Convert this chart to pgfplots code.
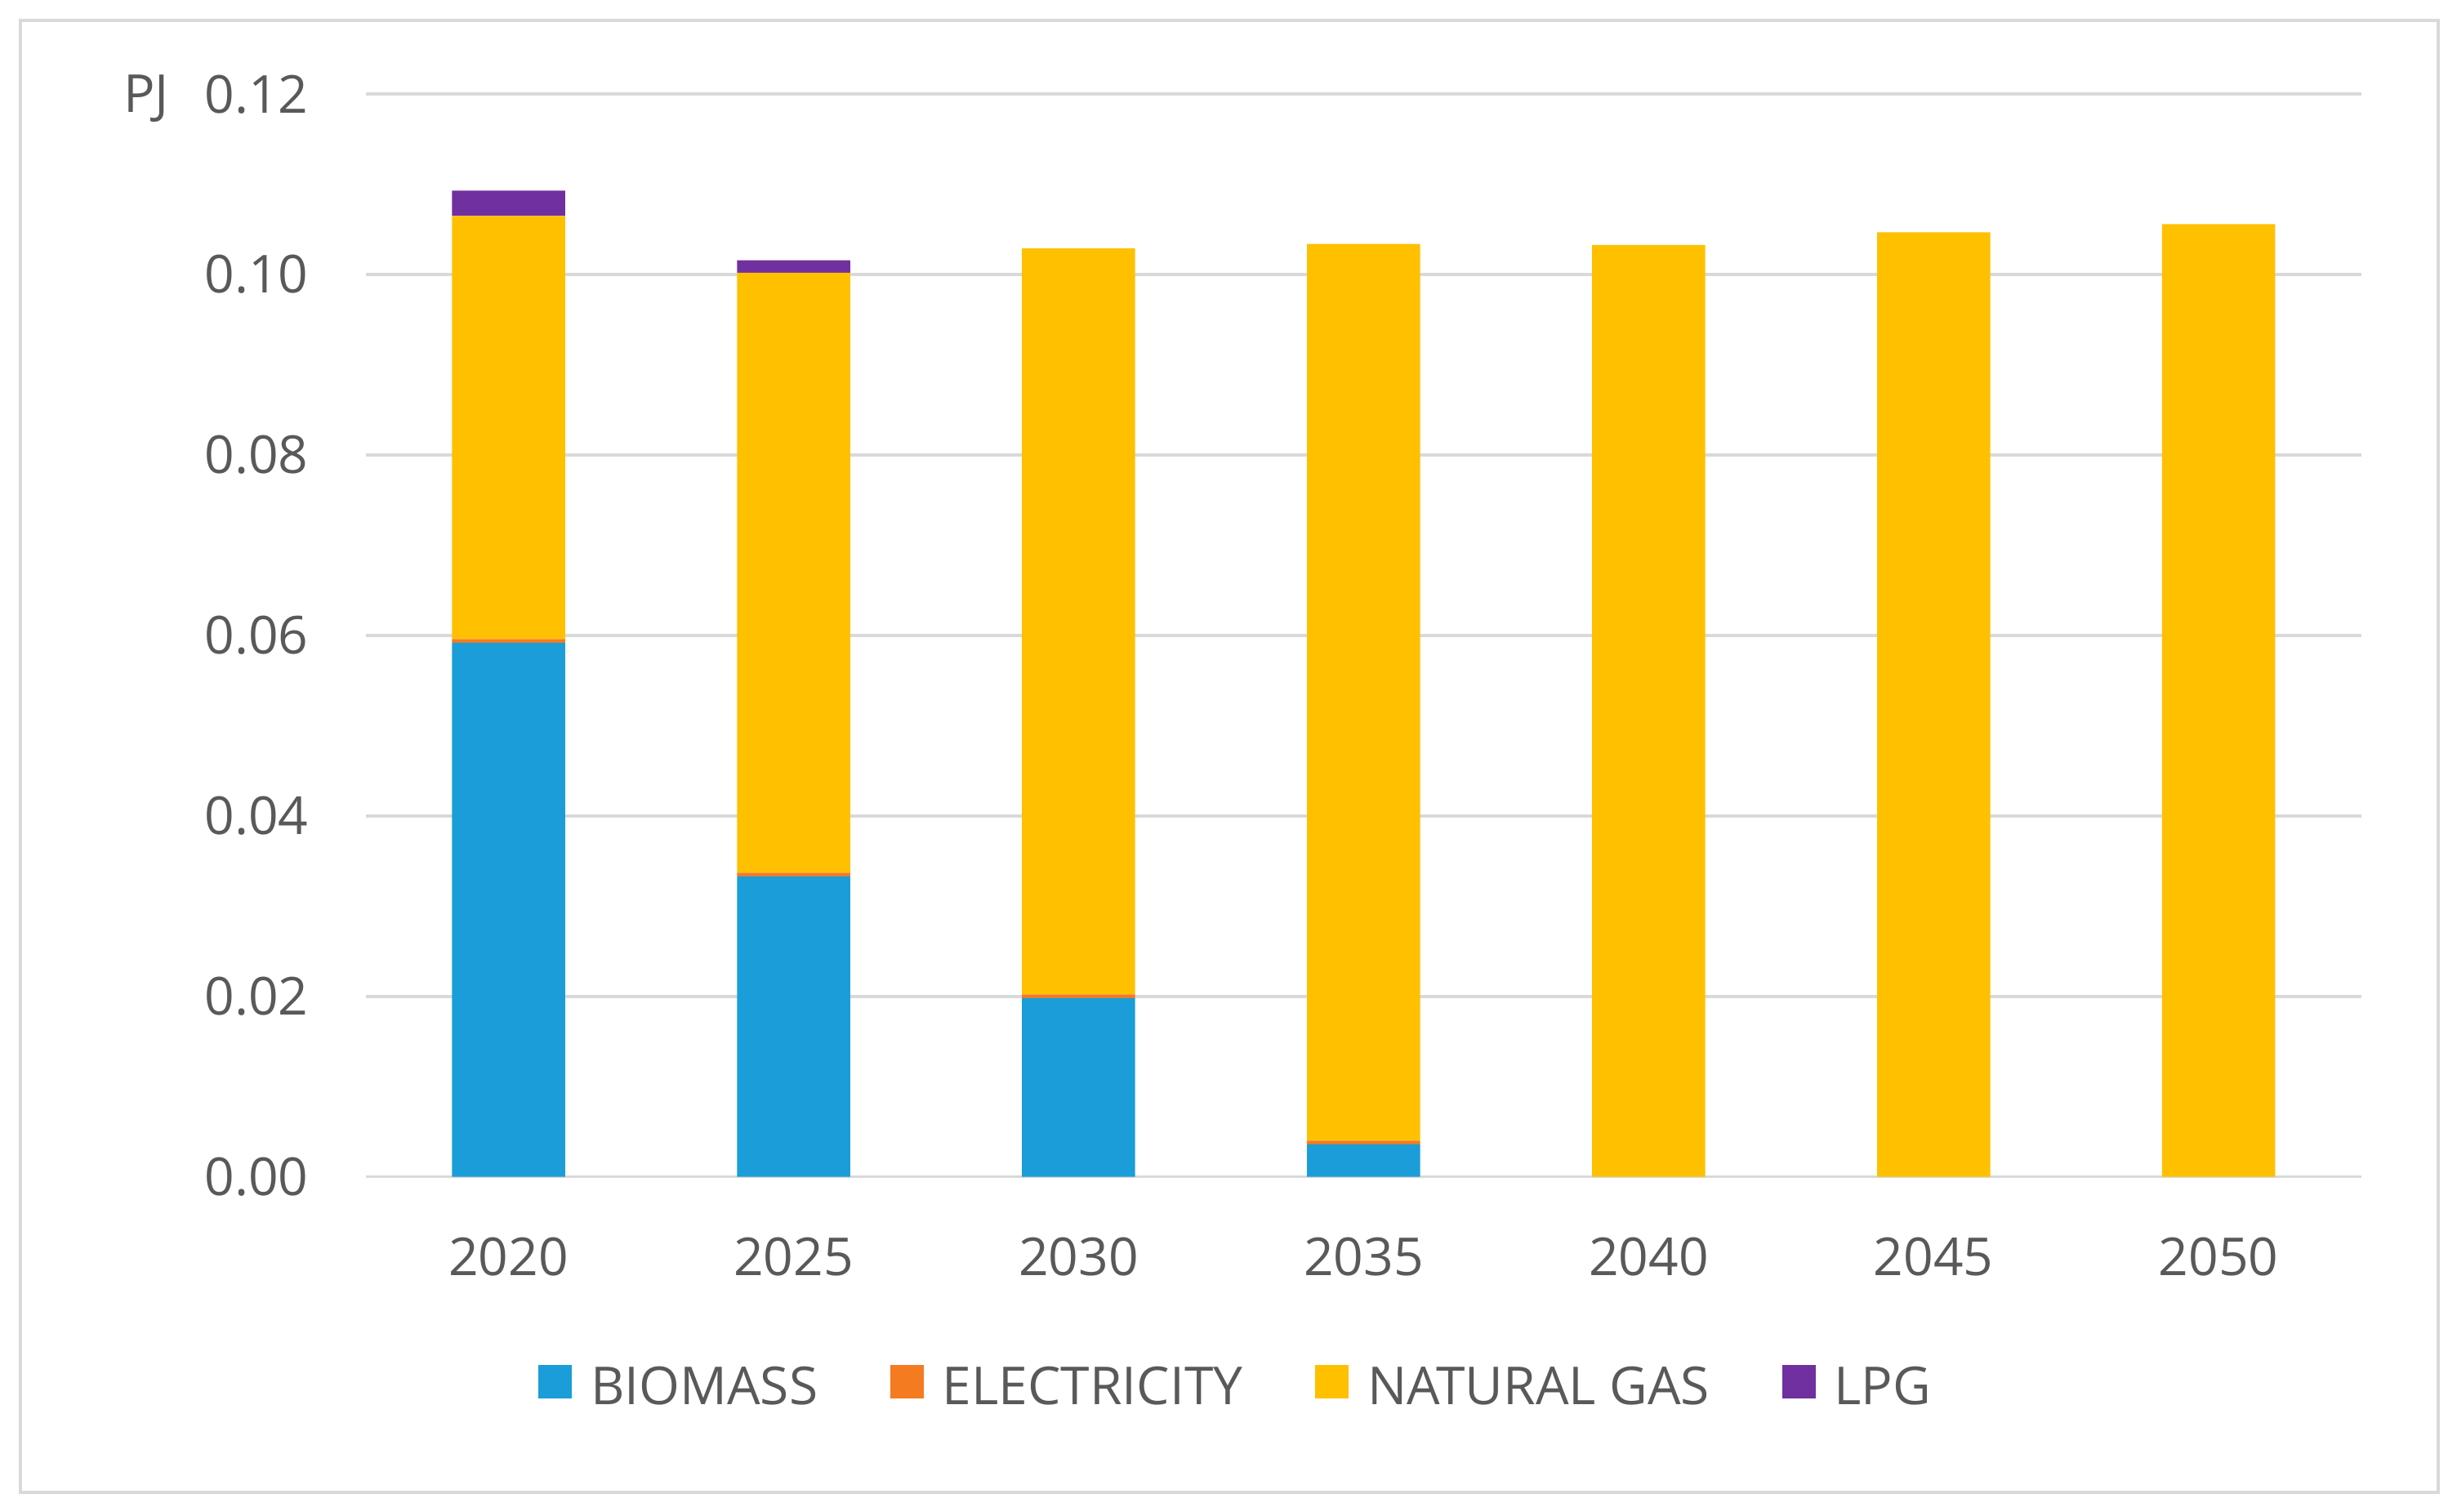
\documentclass[border=0pt]{standalone}
\usepackage{fontspec}
\setmainfont{Open Sans}
\usepackage{pgfplots}
\pgfplotsset{compat=1.18}

\definecolor{biomass}{RGB}{26,157,217}
\definecolor{elec}{RGB}{244,123,32}
\definecolor{natgas}{RGB}{255,192,0}
\definecolor{lpg}{RGB}{112,48,160}
\definecolor{gridgray}{RGB}{217,217,217}
\definecolor{textgray}{RGB}{89,89,89}

\newcommand{\chartfont}{\fontsize{9.7}{11.6}\selectfont}

\pgfplotsset{
  sq/.style={legend image code/.code={\fill[##1] (0pt,-1.5pt) rectangle (6.2pt,4.7pt);}},
}

\begin{document}
\begin{tikzpicture}
\begin{axis}[
    at={(0,0)}, anchor=south west,
    width=369.66pt, height=200.55pt, scale only axis,
    ybar stacked, bar width=0.397,
    xmin=-0.5, xmax=6.5, ymin=0, ymax=0.12,
    xtick={0,...,6},
    xticklabels={2020,2025,2030,2035,2040,2045,2050},
    ytick={0,0.02,0.04,0.06,0.08,0.10,0.12},
    scaled y ticks=false,
    yticklabel={\pgfmathprintnumber[fixed,fixed zerofill,precision=2,assume math mode=true]{\tick}},
    tick label style={font=\chartfont, text=textgray, inner sep=0pt},
    yticklabel style={anchor=east, xshift=-10.48pt},
    xticklabel style={anchor=base, yshift=-18.25pt},
    major tick length=0pt, tick style={draw=none},
    axis line style={draw=none},
    ymajorgrids, grid style={gridgray, line width=0.6pt},
    legend columns=4,
    legend style={at={(0.4354,-0.1960)}, anchor=center, draw=none, fill=none,
        inner sep=0pt, column sep=3.5pt, font=\chartfont,
        /tikz/every even column/.append style={column sep=13.4pt},
        nodes={inner sep=0pt, text=textgray}},
]
\addplot[fill=biomass, draw=none, sq] coordinates {
    (0,0.0592) (1,0.0333) (2,0.0198) (3,0.0036) (4,0) (5,0) (6,0)};
\addplot[fill=elec, draw=none, sq] coordinates {
    (0,0.0004) (1,0.0004) (2,0.0004) (3,0.0004) (4,0) (5,0) (6,0)};
\addplot[fill=natgas, draw=none, sq] coordinates {
    (0,0.0469) (1,0.0665) (2,0.0827) (3,0.0994) (4,0.1033) (5,0.1047) (6,0.1056)};
\addplot[fill=lpg, draw=none, sq] coordinates {
    (0,0.0028) (1,0.0014) (2,0) (3,0) (4,0) (5,0) (6,0)};
\legend{BIOMASS,ELECTRICITY,NATURAL GAS,LPG}
\end{axis}
\node[anchor=base west, inner sep=0pt, font=\chartfont, text=textgray]
    at (-45.12pt,197.15pt) {PJ};
\path (-67.82pt,-62.0pt) rectangle (387.41pt,218.01pt);
\draw[gridgray, line width=0.6pt] (-64.04pt,-58.51pt) rectangle (383.92pt,214.23pt);
\end{tikzpicture}
\end{document}
